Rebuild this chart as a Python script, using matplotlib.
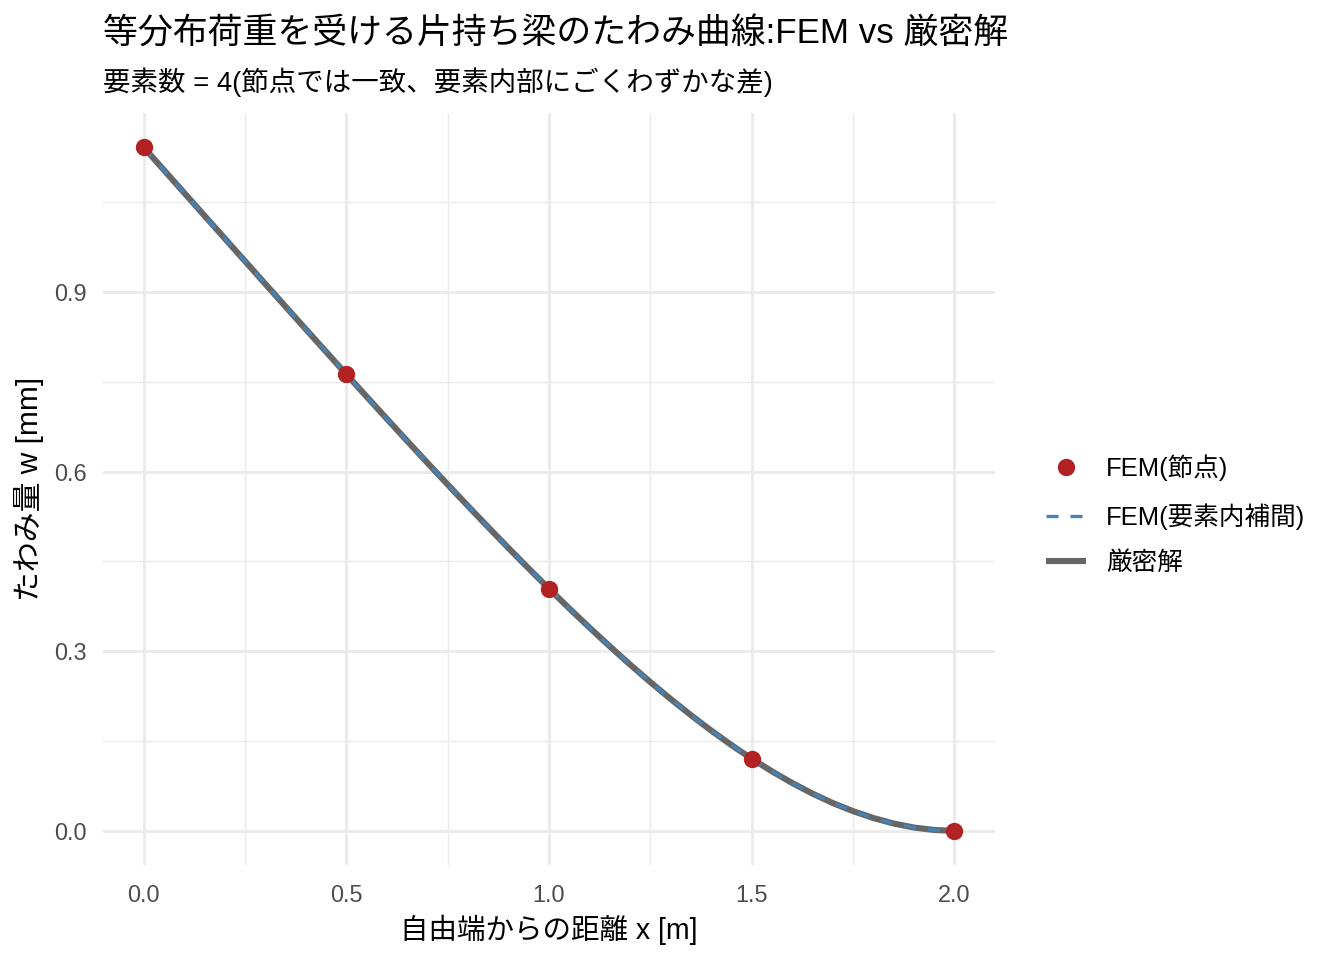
import matplotlib
matplotlib.use("Agg")
import matplotlib.pyplot as plt
from matplotlib.ticker import MultipleLocator

plt.rcParams['font.family'] = ['Liberation Sans', 'Noto Sans CJK JP', 'DejaVu Sans']

# FEM nodes (4 elements)
node_x = [0.0, 0.5, 1.0, 1.5, 2.0]
node_w = [1.142, 0.7628, 0.4045, 0.1204, 0.0]

# curves, step 0.05 m
curve_x = [0.00, 0.05, 0.10, 0.15, 0.20, 0.25, 0.30, 0.35, 0.40, 0.45, 0.50,
           0.55, 0.60, 0.65, 0.70, 0.75, 0.80, 0.85, 0.90, 0.95, 1.00,
           1.05, 1.10, 1.15, 1.20, 1.25, 1.30, 1.35, 1.40, 1.45, 1.50,
           1.55, 1.60, 1.65, 1.70, 1.75, 1.80, 1.85, 1.90, 1.95, 2.00]
exact_w = [1.1420, 1.1040, 1.0659, 1.0278, 0.9898, 0.9518, 0.9138, 0.8759, 0.8381, 0.8004, 0.7628,
           0.7255, 0.6883, 0.6514, 0.6148, 0.5785, 0.5427, 0.5073, 0.4724, 0.4381, 0.4045,
           0.3715, 0.3394, 0.3081, 0.2777, 0.2484, 0.2202, 0.1932, 0.1675, 0.1432, 0.1204,
           0.0993, 0.0798, 0.0621, 0.0464, 0.0328, 0.0214, 0.0122, 0.0055, 0.0014, 0.0000]
fem_w = [1.1420, 1.1040, 1.0658, 1.0277, 0.9897, 0.9517, 0.9137, 0.8758, 0.8380, 0.8004, 0.7628,
         0.7255, 0.6882, 0.6513, 0.6147, 0.5784, 0.5426, 0.5072, 0.4724, 0.4381, 0.4045,
         0.3715, 0.3393, 0.3080, 0.2776, 0.2483, 0.2201, 0.1931, 0.1674, 0.1432, 0.1204,
         0.0993, 0.0797, 0.0620, 0.0463, 0.0327, 0.0213, 0.0121, 0.0055, 0.0014, 0.0000]

fig = plt.figure(figsize=(7, 5), dpi=192)
ax = fig.add_axes([103/1344, 1 - 865/960, (995 - 103)/1344, (865 - 113)/960])

l_exact, = ax.plot(curve_x, exact_w, color='#666666', lw=2.3, solid_capstyle='butt', zorder=2, label='厳密解')
l_fem, = ax.plot(curve_x, fem_w, color='#4682B4', lw=1.25, dashes=(3.6, 3.6), zorder=3, label='FEM(要素内補間)')
l_node, = ax.plot(node_x, node_w, 'o', color='#B22222', ms=5.5, zorder=4, label='FEM(節点)')

ax.set_xlim(-0.1, 2.1)
ax.set_ylim(-0.0571, 1.1991)
ax.xaxis.set_major_locator(MultipleLocator(0.5))
ax.xaxis.set_minor_locator(MultipleLocator(0.25))
ax.yaxis.set_major_locator(MultipleLocator(0.3))
ax.yaxis.set_minor_locator(MultipleLocator(0.15))
ax.xaxis.set_major_formatter(lambda v, p: f"{v:.1f}")
ax.yaxis.set_major_formatter(lambda v, p: f"{v:.1f}")
ax.grid(which='major', color='#EBEBEB', lw=1.07)
ax.grid(which='minor', color='#EBEBEB', lw=0.53)
ax.set_axisbelow(True)
for s in ax.spines.values():
    s.set_visible(False)
ax.tick_params(which='both', length=0, labelsize=8.8, labelcolor='#4D4D4D')
ax.tick_params(axis='x', pad=7)
ax.tick_params(axis='y', pad=6)

ax.set_xlabel('自由端からの距離 x [m]', fontsize=10.7, labelpad=3)
ax.set_ylabel('たわみ量 w [mm]', fontsize=11.2, labelpad=4)

fig.text(103/1344, 1 - 17/960, '等分布荷重を受ける片持ち梁のたわみ曲線:FEM vs 厳密解',
         fontsize=13.1, ha='left', va='top')
fig.text(103/1344, 1 - 67/960, '要素数 = 4(節点では一致、要素内部にごくわずかな差)',
         fontsize=10.3, ha='left', va='top')

fig.legend(handles=[l_node, l_fem, l_exact], loc='center left',
           bbox_to_anchor=(1023/1344, 1 - 515/960), frameon=False, fontsize=9.6,
           handlelength=1.55, handletextpad=0.8, labelspacing=0.85)

fig.savefig('out.png', dpi=192)
